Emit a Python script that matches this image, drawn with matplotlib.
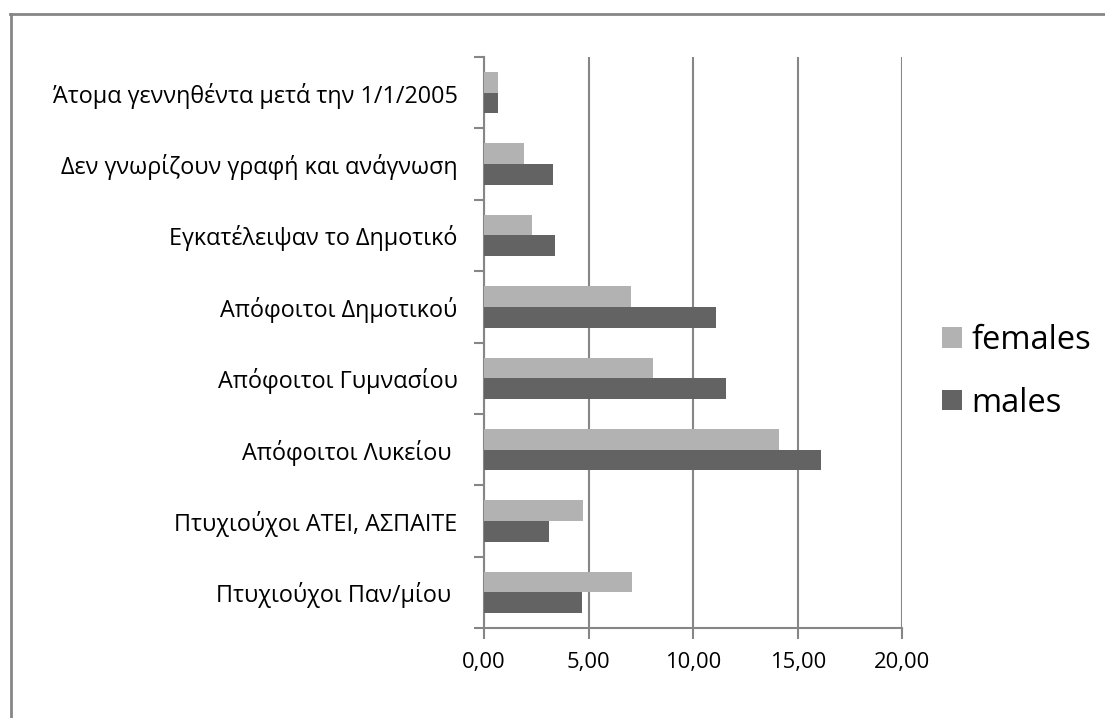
import numpy as np
import matplotlib.pyplot as plt
from matplotlib.lines import Line2D

plt.rcParams['font.family'] = ['Open Sans', 'DejaVu Sans']

# categories listed from bottom to top
categories = ["Πτυχιούχοι Παν/μίου ",
              "Πτυχιούχοι ΑΤΕΙ, ΑΣΠΑΙΤΕ",
              "Απόφοιτοι Λυκείου ",
              "Απόφοιτοι Γυμνασίου",
              "Απόφοιτοι Δημοτικού",
              "Εγκατέλειψαν το Δημοτικό",
              "Δεν γνωρίζουν γραφή και ανάγνωση",
              "Άτομα γεννηθέντα μετά την 1/1/2005"]
females = [7.10, 4.73, 14.13, 8.08, 7.03, 2.28, 1.91, 0.68]
males = [4.68, 3.11, 16.10, 11.58, 11.10, 3.38, 3.30, 0.68]
x_ticks = [0, 5, 10, 15, 20]
x_tick_labels = ["0,00", "5,00", "10,00", "15,00", "20,00"]

grey = "#868686"
fig = plt.figure(figsize=(11.05, 7.18), dpi=100)
ax = fig.add_axes([0.438, 0.1253, 0.3785, 0.7953])

y = np.arange(len(categories))
h = 0.29
ax.barh(y + h / 2, females, height=h, color="#b2b2b2", label="females", zorder=3)
ax.barh(y - h / 2, males, height=h, color="#636363", label="males", zorder=3)

ax.set_xlim(0, 20)
ax.set_ylim(-0.5, len(categories) - 0.5)
ax.set_xticks(x_ticks)
ax.set_xticklabels(x_tick_labels, fontsize=15.8)
ax.set_yticks(y)
ax.set_yticklabels(categories, fontsize=16.8)
ax.set_yticks(np.arange(-0.5, len(categories), 1), minor=True)

ax.tick_params(axis='y', which='major', length=0, pad=19)
ax.tick_params(axis='y', which='minor', length=7, width=1.5, color=grey)
ax.tick_params(axis='x', length=8, width=1.5, color=grey, pad=9)

ax.grid(axis='x', color=grey, linewidth=1.5, zorder=0)
for s in ['top', 'right']:
    ax.spines[s].set_visible(False)
for s in ['left', 'bottom']:
    ax.spines[s].set_color(grey)
    ax.spines[s].set_linewidth(1.5)

fig.legend(loc='center left', bbox_to_anchor=(0.838, 0.482), frameon=False,
           fontsize=23.5, handlelength=0.6, handleheight=0.6, handletextpad=0.3,
           labelspacing=0.9, borderpad=0)

# outer chart border (only left and top visible in the crop)
fig.add_artist(Line2D([10.5 / 1105, 10.5 / 1105], [0, 1 - 13.5 / 718],
                      transform=fig.transFigure, color=grey, linewidth=2))
fig.add_artist(Line2D([10 / 1105, 1], [1 - 13.5 / 718, 1 - 13.5 / 718],
                      transform=fig.transFigure, color=grey, linewidth=2))

fig.savefig("out.png", dpi=100)
